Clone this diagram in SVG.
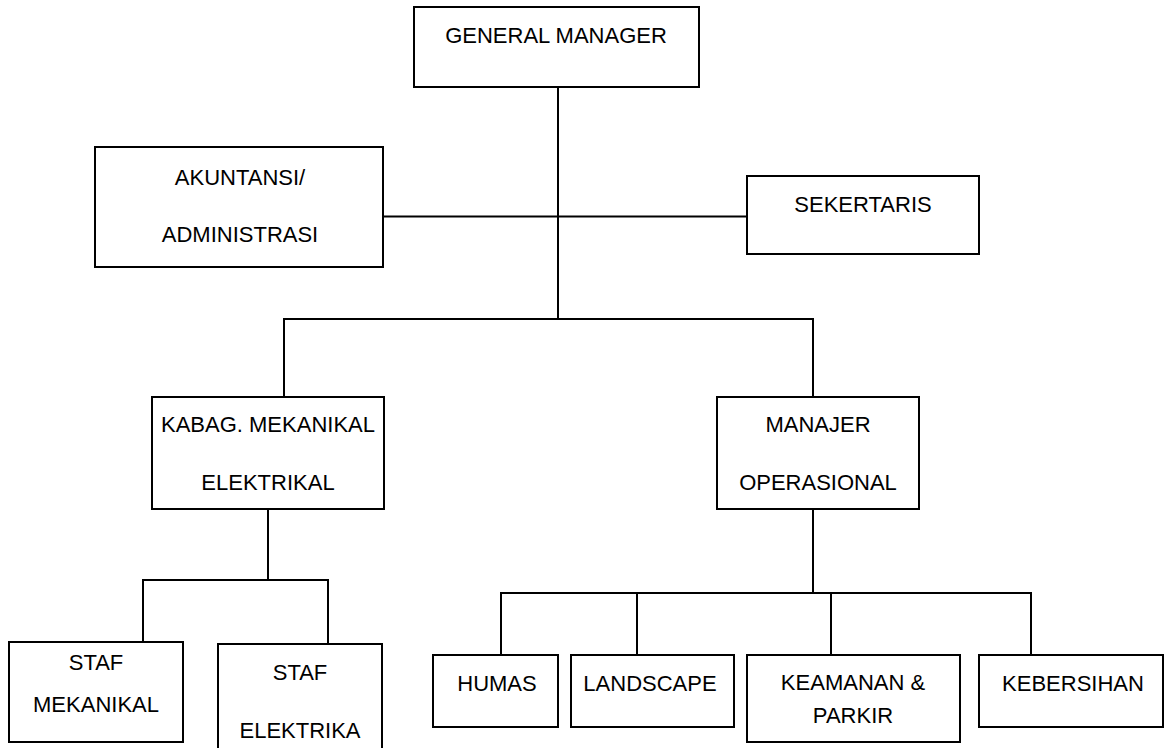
<svg xmlns="http://www.w3.org/2000/svg" width="1166" height="748" viewBox="0 0 1166 748">
<style>
.box{fill:#fff;stroke:#000;stroke-width:2}
.ln{fill:none;stroke:#000;stroke-width:2}
text{font-family:"Liberation Sans",Arial,sans-serif;font-size:22px;fill:#000;text-anchor:middle}
</style>
<rect width="1166" height="748" fill="#fff"/>
<g id="connectors">
<path class="ln" d="M558 87V319M383 216.5H747M284 397V319H813V397"/>
<path class="ln" d="M268 509V580M143 642V580H328V644"/>
<path class="ln" d="M813 509V593M501 655V593H1031V655M637 593V655M831 593V655"/>
</g>
<g id="gm"><rect class="box" x="414" y="7" width="285" height="80"/><text x="556" y="43">GENERAL MANAGER</text></g>
<g id="akuntansi"><rect class="box" x="95" y="147" width="288" height="120"/><text x="240" y="185">AKUNTANSI/</text><text x="240" y="242">ADMINISTRASI</text></g>
<g id="sekertaris"><rect class="box" x="747" y="176" width="232" height="78"/><text x="863" y="212">SEKERTARIS</text></g>
<g id="kabag"><rect class="box" x="152" y="397" width="232" height="112"/><text x="268" y="432">KABAG. MEKANIKAL</text><text x="268" y="490">ELEKTRIKAL</text></g>
<g id="manajer"><rect class="box" x="717" y="397" width="202" height="112"/><text x="818" y="432">MANAJER</text><text x="818" y="490">OPERASIONAL</text></g>
<g id="staf-mek"><rect class="box" x="9" y="642" width="174" height="100"/><text x="96" y="670">STAF</text><text x="96" y="712">MEKANIKAL</text></g>
<g id="staf-el"><rect class="box" x="218" y="644" width="164" height="110"/><text x="300" y="680">STAF</text><text x="300" y="738">ELEKTRIKA</text></g>
<g id="humas"><rect class="box" x="433" y="655" width="125" height="72"/><text x="497" y="691">HUMAS</text></g>
<g id="landscape"><rect class="box" x="571" y="655" width="163" height="72"/><text x="650" y="691">LANDSCAPE</text></g>
<g id="keamanan"><rect class="box" x="747" y="655" width="213" height="87"/><text x="853" y="690">KEAMANAN &amp;</text><text x="853" y="723">PARKIR</text></g>
<g id="kebersihan"><rect class="box" x="979" y="655" width="184" height="72"/><text x="1073" y="691">KEBERSIHAN</text></g>
</svg>
